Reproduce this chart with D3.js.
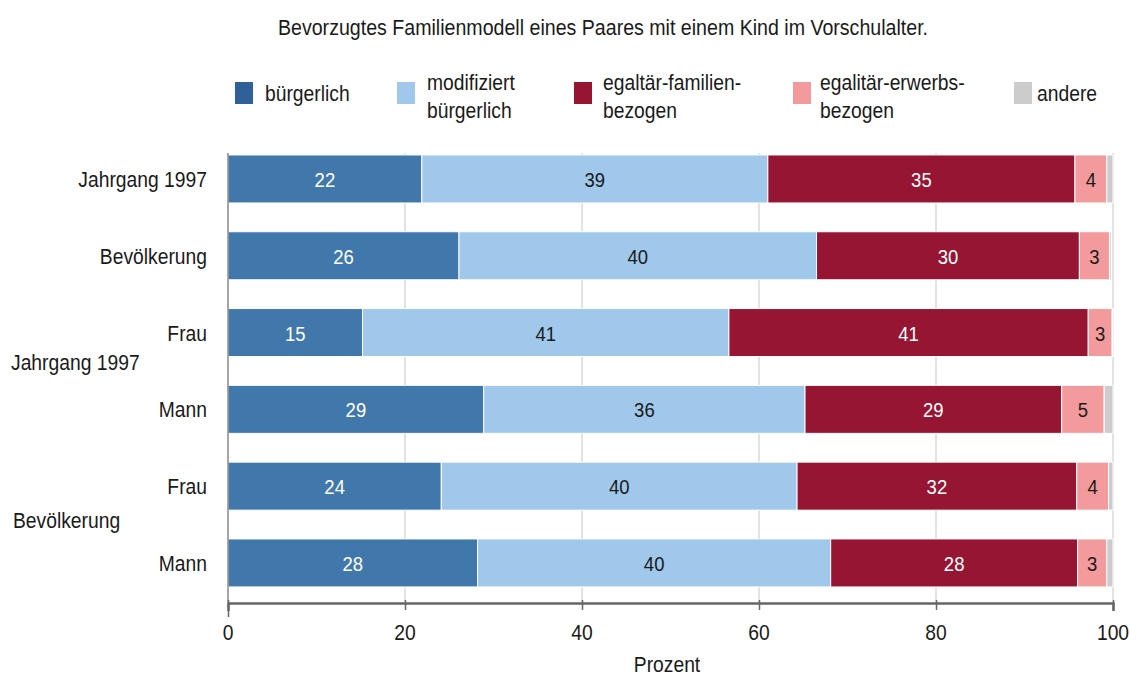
<!DOCTYPE html>
<html>
<head>
<meta charset="utf-8">
<script src="https://cdn.jsdelivr.net/npm/d3@7"></script>
<style>
  body { margin: 0; background: #fff; }
  text { font-family: "Liberation Sans", Arial, sans-serif; }
</style>
</head>
<body>
<div id="chart"></div>
<script>
const rows = ['Jahrgang 1997', 'Bevölkerung ', 'Frau', 'Mann', 'Frau', 'Mann'];
const groups = ['Jahrgang 1997', 'Bevölkerung'];
const groupRows = [[2, 3], [4, 5]];
const series = ['bürgerlich', 'modifiziert bürgerlich', 'egaltär-familien-bezogen', 'egalitär-erwerbs-bezogen', 'andere'];
const legendLines = [['bürgerlich'], ['modifiziert', 'bürgerlich'], ['egaltär-familien-', 'bezogen'], ['egalitär-erwerbs-', 'bezogen'], ['andere']];
const colors = ['#4178ab', '#9fc8eb', '#951532', '#f29a9c', '#cccccc'];
const legendColors = ['#2f6198', '#9fc8eb', '#951532', '#f29a9c', '#cccccc'];
const buergerlich = [21.9, 26.1, 15.2, 28.9, 24.1, 28.2];
const modifiziert = [39.1, 40.4, 41.4, 36.3, 40.2, 39.9];
const familien = [34.7, 29.7, 40.6, 29.0, 31.6, 27.9];
const erwerbs = [3.6, 3.4, 2.7, 4.8, 3.6, 3.3];
const andere = [0.7, 0.2, 0.1, 1.0, 0.5, 0.7];
const xTicks = [0, 20, 40, 60, 80, 100];

const width = 1130, height = 675;
const fs = 19.3, vs = 1.1;
const svg = d3.select('#chart').append('svg').attr('width', width).attr('height', height);

// text is drawn a little taller than wide, as in the original
function label(parent, x, y, str, size, anchor, fill) {
  return parent.append('text')
    .attr('transform', `translate(${x},${y}) scale(1,${vs})`)
    .attr('text-anchor', anchor || 'start')
    .attr('font-size', size || fs)
    .attr('fill', fill || '#1a1a1a')
    .text(str);
}

const x = d3.scaleLinear().domain([0, 100]).range([228, 1113]);
const y = d3.scaleBand().domain(d3.range(rows.length)).range([139.6, 602.3]).paddingInner(0.375).paddingOuter(0.2);

label(svg, 603, 35, 'Bevorzugtes Familienmodell eines Paares mit einem Kind im Vorschulalter.', 19.6, 'middle');

// legend
const legendX = [[235, 265], [397, 427], [574, 603], [793, 820], [1014, 1037]];
legendLines.forEach((lines, i) => {
  const g = svg.append('g');
  g.append('rect').attr('x', legendX[i][0]).attr('y', 82).attr('width', 18).attr('height', 22).attr('fill', legendColors[i]);
  if (lines.length === 1) {
    label(g, legendX[i][1], 101, lines[0]);
  } else {
    lines.forEach((l, j) => label(g, legendX[i][1], 90 + j * 28, l));
  }
});

// grid
svg.append('g').selectAll('line').data(xTicks.slice(1)).join('line')
  .attr('x1', d => x(d)).attr('x2', d => x(d)).attr('y1', 153).attr('y2', 602)
  .attr('stroke', '#d9d9d9').attr('stroke-width', 1.5);

const stackData = rows.map((r, i) => ({
  i, 'bürgerlich': buergerlich[i], 'modifiziert bürgerlich': modifiziert[i],
  'egaltär-familien-bezogen': familien[i], 'egalitär-erwerbs-bezogen': erwerbs[i], 'andere': andere[i]
}));
const stacked = d3.stack().keys(series)(stackData);

const layers = svg.append('g').selectAll('g').data(stacked).join('g')
  .attr('fill', (d, k) => colors[k]);
layers.selectAll('rect').data(d => d).join('rect')
  .attr('x', d => x(d[0])).attr('y', d => y(d.data.i))
  .attr('width', d => x(d[1]) - x(d[0])).attr('height', y.bandwidth())
  .attr('stroke', '#fff').attr('stroke-width', 1);

const valueLayer = svg.append('g');
stacked.forEach((layer, k) => {
  layer.filter(d => d[1] - d[0] >= 2).forEach(d => {
    label(valueLayer, (x(d[0]) + x(d[1])) / 2, y(d.data.i) + y.bandwidth() / 2 + 8,
      Math.round(d[1] - d[0]), 18.5, 'middle', k === 0 || k === 2 ? '#fff' : '#1a1a1a');
  });
});

// y axis
svg.append('line').attr('x1', 228).attr('x2', 228).attr('y1', 153).attr('y2', 602)
  .attr('stroke', '#888').attr('stroke-width', 1.5);
const yLabels = svg.append('g');
rows.forEach((r, i) => label(yLabels, 207, y(i) + y.bandwidth() / 2 + 8, r, fs, 'end'));
const groupX = [11, 13];
const groupDy = [-1, 3];
groups.forEach((gname, i) => {
  const mid = (y(groupRows[i][0]) + y(groupRows[i][1]) + y.bandwidth()) / 2;
  label(yLabels, groupX[i], mid + groupDy[i], gname);
});

// x axis
const xAxis = svg.append('g').attr('transform', 'translate(0,603)')
  .call(d3.axisBottom(x).tickValues(xTicks).tickSize(8).tickPadding(10));
xAxis.select('.domain').attr('stroke', '#666').attr('stroke-width', 2.5);
xAxis.selectAll('.tick line').attr('stroke', '#666').attr('stroke-width', 1.5)
  .attr('y1', -3).attr('y2', d => d === 0 ? 14 : 7);
xAxis.selectAll('.tick text').remove();
xTicks.forEach(t => label(svg, x(t), 640, t, fs, 'middle'));

label(svg, 667, 672, 'Prozent', fs, 'middle');
</script>
</body>
</html>
